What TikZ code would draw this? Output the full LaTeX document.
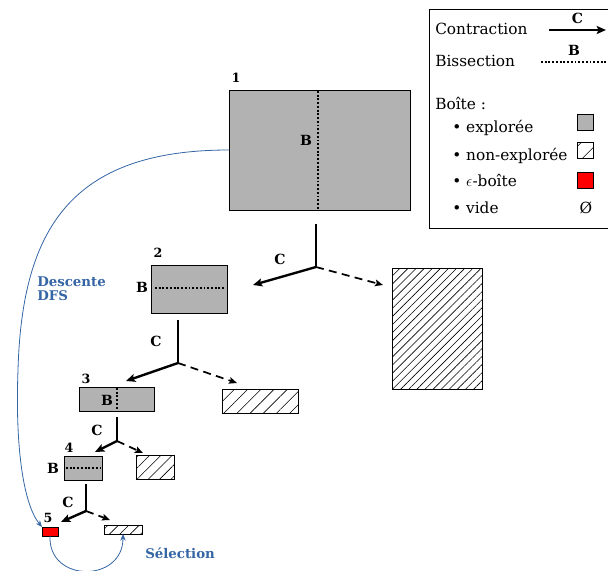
\documentclass[tikz,border=0pt]{standalone}
\usepackage{fontspec}
\setmainfont{DejaVu Serif}
\usetikzlibrary{arrows.meta,patterns.meta}
\definecolor{dfsblue}{RGB}{52,101,164}
\tikzset{
  boxbase/.style={draw, line width=0.6pt, inner sep=0pt, outer sep=0pt},
  explored/.style={boxbase, fill=black!30},
  hatched/.style={boxbase, pattern={Lines[angle=45,distance=#1,line width=0.45pt]}},
  epsbox/.style={boxbase, fill=red},
  contr/.style={line width=1.8pt, -{Stealth[length=7pt,width=6pt,inset=1.5pt]}},
  contrstem/.style={line width=1.8pt},
  other/.style={line width=1.3pt, dash pattern=on 6pt off 4pt, -{Stealth[length=6pt,width=5pt,inset=1.2pt]}},
  bis/.style={line width=1.3pt, dash pattern=on 1.4pt off 1.4pt},
  num/.style={font=\bfseries\fontsize{9.5}{11}\selectfont, inner sep=0pt},
  lab/.style={font=\bfseries\fontsize{10.5}{12}\selectfont, inner sep=0pt},
  legtxt/.style={font=\fontsize{11.5}{14}\selectfont, inner sep=0pt, anchor=base west},
  bluetxt/.style={font=\bfseries\fontsize{10}{11}\selectfont, text=dfsblue, inner sep=0pt, anchor=base west, align=left},
  dfs/.style={draw=dfsblue, line width=0.6pt, -{Stealth[length=5pt,width=4pt]}}
}
\begin{document}
\begin{tikzpicture}[x=0.75pt,y=-0.75pt]
\useasboundingbox (0,0) rectangle (608,571);

% ---------- legend ----------
\draw[line width=0.6pt] (429,9) rectangle (620,228);
\node[legtxt] (lcontr) at (435,35) {Contraction};
\coordinate (lca) at (549,30);
\coordinate (lcb) at (606,30);
\draw[contr] (lca) -- node[lab, above=4pt] (lcl) {C} (lcb);
\node[legtxt] (lbis) at (435,66) {Bissection};
\coordinate (lba) at (541,62);
\coordinate (lbb) at (612,62);
\draw[bis] (lba) -- (lbb);
\node[lab] (lbl) at (574,50) {B};
\node[legtxt] (lboite) at (435,109) {Boîte :};
\node[legtxt] (l1) at (452,132) {\textbullet\ explorée};
\node[legtxt] (l2) at (452,160) {\textbullet\ non-explorée};
\node[legtxt] (l3) at (452,186) {\textbullet\ $\epsilon$-boîte};
\node[legtxt] (l4) at (452,213) {\textbullet\ vide};
\node[explored, minimum width=12pt, minimum height=12pt] (s1) at (585,122) {};
\node[hatched=9pt, minimum width=12pt, minimum height=12pt] (s2) at (585,150) {};
\node[epsbox, minimum width=12pt, minimum height=12pt] (s3) at (585,180) {};
\node[legtxt, anchor=base] (s4) at (586,213) {Ø};

% ---------- boxes ----------
\node[explored, minimum width=135.75pt, minimum height=90pt] (b1) at (319.5,150) {};
\node[num] (n1) at (236,78) {1};
\draw[bis] (318,91) -- (318,209);
\node[lab] (bl1) at (306,140) {B};

\node[explored, minimum width=57pt, minimum height=36pt] (b2) at (189,289) {};
\node[num] (n2) at (158,253) {2};
\draw[bis] (155,288) -- (225,288);
\node[lab] (bl2) at (142,287) {B};

\node[hatched=4.3pt, minimum width=67.5pt, minimum height=90.75pt] (h2) at (437,328.5) {};

\node[explored, minimum width=56.25pt, minimum height=18pt] (b3) at (116.5,399) {};
\node[num] (n3) at (86,379) {3};
\draw[bis] (117,388) -- (117,410);
\node[lab] (bl3) at (107,400) {B};

\node[hatched=7pt, minimum width=57pt, minimum height=18pt] (h3) at (260,401) {};

\node[explored, minimum width=28.5pt, minimum height=18pt] (b4) at (83,468) {};
\node[num] (n4) at (69,448) {4};
\draw[bis] (66,468) -- (101,468);
\node[lab] (bl4) at (53,468) {B};

\node[hatched=6pt, minimum width=28.5pt, minimum height=18pt] (h4) at (155,467) {};

\node[epsbox, minimum width=12pt, minimum height=6.75pt] (b5) at (50,531.5) {};
\node[num] (n5) at (48,518) {5};

\node[hatched=5.5pt, minimum width=28.5pt, minimum height=6.75pt] (h5) at (123,529.5) {};

% ---------- contraction forks ----------
\coordinate (f1t) at (316,224);
\coordinate (f1j) at (316,267);
\coordinate (f1l) at (253,285);
\coordinate (f1r) at (383,285);
\draw[contrstem] (f1t) -- (f1j);
\draw[contr] (f1j) -- (f1l);
\draw[other] (f1j) -- (f1r);
\node[lab] (c1) at (280,259) {C};

\coordinate (f2t) at (178,320);
\coordinate (f2j) at (178,363);
\coordinate (f2l) at (126,381);
\coordinate (f2r) at (237,383);
\draw[contrstem] (f2t) -- (f2j);
\draw[contr] (f2j) -- (f2l);
\draw[other] (f2j) -- (f2r);
\node[lab] (c2) at (156,341) {C};

\coordinate (f3t) at (117,417);
\coordinate (f3j) at (117,441);
\coordinate (f3l) at (95,452);
\coordinate (f3r) at (143,453);
\draw[contrstem] (f3t) -- (f3j);
\draw[contr] (f3j) -- (f3l);
\draw[other] (f3j) -- (f3r);
\node[lab] (c3) at (97,430) {C};

\coordinate (f4t) at (86,484);
\coordinate (f4j) at (86,511);
\coordinate (f4l) at (61,522);
\coordinate (f4r) at (110,520);
\draw[contrstem] (f4t) -- (f4j);
\draw[contr] (f4j) -- (f4l);
\draw[other] (f4j) -- (f4r);
\node[lab] (c4) at (68,502) {C};

% ---------- DFS descent and selection ----------
\draw[dfs] (b1.west) .. controls (70,150) and (22,230) .. (18,370)
            .. controls (15,450) and (24,505) .. (b5.north west);
\node[bluetxt] (dfsl) at (37,300) {Descente\\[-1pt]DFS};

\draw[dfs] (b5.south) .. controls (48,583) and (123,583) .. (h5.south);
\node[bluetxt] (sel) at (145,558) {Sélection};
\end{tikzpicture}
\end{document}
